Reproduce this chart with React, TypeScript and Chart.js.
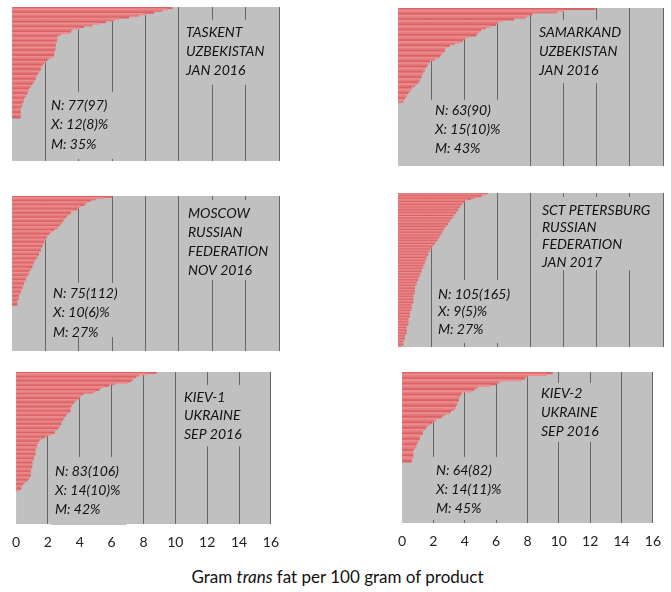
import React, { useEffect, useRef } from "react";
import { Chart, registerables } from "chart.js";

Chart.register(...registerables);

// ---------- data ----------
const xTickValues = [0, 2, 4, 6, 8, 10, 12, 14, 16];

const taskentValues = [
  9.6, 9.3, 9.0, 8.5, 8.0, 7.6, 7.0, 6.4, 6.1, 5.6, 5.2, 4.8, 4.3, 4.0, 3.6, 3.5, 3.4, 2.9, 2.7,
  2.7, 2.7, 2.65, 2.65, 2.6, 2.6, 2.6, 2.6, 2.55, 2.55, 2.5, 2.5, 2.4,
  2.2, 2.1, 2.0, 1.9, 1.8, 1.8, 1.7, 1.7, 1.6,
  1.6, 1.5, 1.5, 1.4, 1.4, 1.3, 1.3,
  1.2, 1.1, 1.1, 1.0, 1.0, 0.9, 0.9,
  0.8, 0.8, 0.7, 0.7, 0.7, 0.6, 0.6, 0.6,
  0.5, 0.5, 0.5, 0.5, 0.5, 0.5, 0.5,
  0, 0, 0, 0, 0, 0, 0, 0, 0, 0, 0, 0, 0, 0, 0, 0, 0, 0, 0, 0, 0, 0, 0, 0, 0, 0, 0,
];

const moscowValues = [
  6.0, 5.5, 5.0, 4.7, 4.5, 4.4, 4.3, 4.1, 4.0, 3.9, 3.7, 3.5, 3.5, 3.4, 3.3, 3.2, 3.1, 3.1, 3.0, 3.0,
  2.9, 2.8, 2.7, 2.7, 2.5, 2.4, 2.3,
  2.2, 2.1, 2.1, 2.0, 2.0, 1.9, 1.9, 1.9,
  1.8, 1.8, 1.7, 1.7, 1.7, 1.6, 1.6, 1.6,
  1.5, 1.5, 1.4, 1.4, 1.3, 1.3, 1.3, 1.2,
  1.2, 1.1, 1.1, 1.0, 1.0, 1.0, 0.9, 0.9,
  0.8, 0.8, 0.8, 0.7, 0.7, 0.7, 0.6, 0.6,
  0.6, 0.5, 0.5, 0.5, 0.4, 0.4, 0.4, 0.4,
  0.3, 0.3, 0.3, 0.3,
  0, 0, 0, 0, 0, 0, 0, 0, 0, 0, 0, 0, 0, 0, 0, 0, 0, 0, 0, 0, 0, 0, 0, 0, 0, 0, 0, 0, 0, 0, 0, 0, 0,
];

const kiev1Values = [
  8.8, 8.2, 7.7, 7.5, 7.4, 7.3, 7.2, 7.0, 6.2, 5.8, 5.5, 5.3, 5.2, 5.0, 4.8, 4.2, 4.1, 4.0, 3.9, 3.8,
  3.7, 3.6, 3.5,
  3.5, 3.4, 3.4, 3.4, 3.4, 3.3,
  3.2, 3.1, 3.0, 3.0, 2.9,
  2.9, 2.8, 2.8, 2.7,
  2.7, 2.6, 2.5, 2.4,
  2.4, 2.2, 2.0, 1.8,
  1.6, 1.5, 1.4, 1.4,
  1.3, 1.3, 1.3, 1.2, 1.2, 1.2, 1.2, 1.2,
  1.1, 1.1, 1.1, 1.1, 1.0, 1.0, 1.0, 1.0,
  1.0, 0.9, 0.9, 0.9, 0.9, 0.9, 0.9, 0.8, 0.8,
  0.7, 0.6, 0.5, 0.4, 0.4, 0.3, 0.3, 0.2,
  0, 0, 0, 0, 0, 0, 0, 0, 0, 0, 0, 0, 0, 0, 0, 0, 0, 0, 0, 0, 0, 0, 0,
];

const samarkandValues = [
  11.9, 10.0, 9.6, 8.1, 7.9, 7.7, 7.0, 6.3, 6.0, 5.9, 5.6, 5.3, 5.0, 4.9, 4.8, 4.7, 4.3, 4.0, 3.9, 3.8,
  3.4, 3.1, 2.9, 2.8, 2.8, 2.7, 2.6, 2.5, 2.4, 2.2, 1.9, 1.8, 1.8, 1.7, 1.6, 1.6, 1.5, 1.5, 1.4, 1.4,
  1.3, 1.3, 1.2, 1.1, 1.0, 0.8, 0.8, 0.7, 0.6, 0.5, 0.5, 0.4, 0.3, 0.3,
  0, 0, 0, 0, 0, 0, 0, 0, 0, 0, 0, 0, 0, 0, 0, 0, 0, 0, 0, 0, 0, 0, 0, 0, 0, 0, 0, 0, 0, 0, 0, 0, 0, 0, 0, 0,
];

const petersburgValues = [
  5.4, 5.3, 5.1, 5.0, 4.9, 4.6, 4.4, 4.2, 4.0, 4.0,
  3.9, 3.9, 3.8, 3.8, 3.7, 3.7, 3.6, 3.6, 3.6, 3.5,
  3.5, 3.5, 3.4, 3.4, 3.3, 3.3, 3.3, 3.2, 3.2, 3.1,
  3.1, 3.0, 3.0, 3.0, 2.9, 2.9, 2.8, 2.8, 2.8, 2.7,
  2.7, 2.7, 2.6, 2.6, 2.6, 2.5, 2.5, 2.5, 2.4, 2.4,
  2.4, 2.3, 2.3, 2.2, 2.2, 2.1, 2.1, 2.0, 2.0, 2.0,
  1.9, 1.9, 1.9, 1.8, 1.8, 1.8, 1.8, 1.7, 1.7, 1.7,
  1.7, 1.7, 1.6, 1.6, 1.6, 1.6, 1.6, 1.5, 1.5, 1.5,
  1.5, 1.4, 1.4, 1.4, 1.4, 1.4, 1.3, 1.3, 1.3, 1.3,
  1.2, 1.2, 1.2, 1.2, 1.1, 1.1, 1.1, 1.1, 1.1, 1.0,
  1.0, 1.0, 1.0, 1.0, 1.0, 1.0, 1.0, 1.0, 0.9, 0.9,
  0.9, 0.9, 0.9, 0.9, 0.9, 0.9, 0.9, 0.9, 0.8, 0.8,
  0.8, 0.8, 0.8, 0.8, 0.8, 0.8, 0.7, 0.7, 0.7, 0.7,
  0.7, 0.7, 0.7, 0.6, 0.6, 0.6, 0.6, 0.6, 0.6, 0.6,
  0.6, 0.6, 0.5, 0.5, 0.5, 0.5, 0.5, 0.5, 0.5, 0.5,
  0.5, 0.4, 0.4, 0.4, 0.4, 0.4, 0.4, 0.4, 0.3, 0.3,
  0.3, 0.3, 0.3, 0.2, 0.2,
];

const kiev2Values = [
  9.6, 9.2, 8.0, 7.8, 7.6, 6.2, 6.0, 5.6, 4.8, 4.6, 4.4, 3.8, 3.7, 3.7, 3.6, 3.6, 3.5, 3.5, 3.4, 3.4,
  3.3, 3.1, 3.0, 2.7, 2.5, 2.2, 2.1, 1.9, 1.8, 1.6, 1.5, 1.4, 1.3, 1.3, 1.2, 1.1, 1.1, 1.0, 1.0, 0.9,
  0.9, 0.8, 0.7, 0.7, 0.7, 0.7, 0.7, 0.6, 0.6,
  0, 0, 0, 0, 0, 0, 0, 0, 0, 0, 0, 0, 0, 0, 0, 0, 0, 0, 0, 0, 0, 0, 0, 0, 0, 0, 0, 0, 0, 0, 0, 0, 0,
];

const taskentTitle = ["TASKENT", "UZBEKISTAN", "JAN 2016"];
const taskentStats = ["N: 77(97)", "X: 12(8)%", "M: 35%"];
const moscowTitle = ["MOSCOW", "RUSSIAN", "FEDERATION", "NOV 2016"];
const moscowStats = ["N: 75(112)", "X: 10(6)%", "M: 27%"];
const kiev1Title = ["KIEV-1", "UKRAINE", "SEP 2016"];
const kiev1Stats = ["N: 83(106)", "X: 14(10)%", "M: 42%"];
const samarkandTitle = ["SAMARKAND", "UZBEKISTAN", "JAN 2016"];
const samarkandStats = ["N: 63(90)", "X: 15(10)%", "M: 43%"];
const petersburgTitle = ["SCT PETERSBURG", "RUSSIAN", "FEDERATION", "JAN 2017"];
const petersburgStats = ["N: 105(165)", "X: 9(5)%", "M: 27%"];
const kiev2Title = ["KIEV-2", "UKRAINE", "SEP 2016"];
const kiev2Stats = ["N: 64(82)", "X: 14(11)%", "M: 45%"];

const captionBefore = "Gram ";
const captionItalic = "trans";
const captionAfter = " fat per 100 gram of product";

// ---------- layout / style ----------
const PLOT_BG = "#c0c0c0";
const GRID = "#666666";
const BAR_COLORS = ["#dd6264", "#ea8d8e", "#e47a7b"];
const TEXT_FONT = "italic 14px Lato, 'Open Sans', sans-serif";
const TICK_PAD = 10;
const TICK_SIZE = 14;

interface Block {
  lines: string[];
  x: number;
  y: number;
  gap: number;
  pt: number;
  pb: number;
}
interface PanelCfg {
  values: number[];
  l: number;
  t: number;
  r: number;
  b: number;
  ticks: boolean;
  blocks: Block[];
}

const panels: PanelCfg[] = [
  {
    values: taskentValues, l: 12, t: 7, r: 279, b: 161, ticks: false,
    blocks: [
      { lines: taskentTitle, x: 186, y: 32, gap: 19.4, pt: 12, pb: 14 },
      { lines: taskentStats, x: 51, y: 105, gap: 19.5, pt: 13, pb: 15 },
    ],
  },
  {
    values: moscowValues, l: 12, t: 196, r: 279, b: 351, ticks: false,
    blocks: [
      { lines: moscowTitle, x: 188, y: 213, gap: 19.3, pt: 13, pb: 9 },
      { lines: moscowStats, x: 53, y: 293, gap: 19.5, pt: 10, pb: 5 },
    ],
  },
  {
    values: kiev1Values, l: 12, t: 372, r: 279, b: 524, ticks: true,
    blocks: [
      { lines: kiev1Title, x: 184, y: 397, gap: 18.7, pt: 12, pb: 12 },
      { lines: kiev1Stats, x: 55, y: 471, gap: 19, pt: 14, pb: 16 },
    ],
  },
  {
    values: samarkandValues, l: 398, t: 8, r: 663, b: 166, ticks: false,
    blocks: [
      { lines: samarkandTitle, x: 539, y: 32, gap: 19, pt: 12, pb: 13 },
      { lines: samarkandStats, x: 435, y: 110, gap: 19, pt: 10, pb: 18 },
    ],
  },
  {
    values: petersburgValues, l: 398, t: 193, r: 663, b: 347, ticks: false,
    blocks: [
      { lines: petersburgTitle, x: 542, y: 210, gap: 17.4, pt: 13, pb: 8 },
      { lines: petersburgStats, x: 438, y: 294, gap: 17.5, pt: 14, pb: 14 },
    ],
  },
  {
    values: kiev2Values, l: 398, t: 372, r: 663, b: 523, ticks: true,
    blocks: [
      { lines: kiev2Title, x: 541, y: 393, gap: 19, pt: 10, pb: 11 },
      { lines: kiev2Stats, x: 436, y: 470, gap: 19, pt: 13, pb: 12 },
    ],
  },
];

const PAGE_W = 671;

function Panel({ cfg }: { cfg: PanelCfg }) {
  const ref = useRef<HTMLCanvasElement | null>(null);
  const padL = 10;
  const padR = Math.min(10, PAGE_W - cfg.r);
  const padT = 4;
  const plotW = cfg.r - cfg.l;
  const plotH = cfg.b - cfg.t;
  const axisH = cfg.ticks ? TICK_SIZE * 1.2 + 2 * TICK_PAD : 0;
  const canvasW = plotW + padL + padR;
  const canvasH = Math.ceil(padT + plotH + axisH + 4);
  const padB = canvasH - padT - plotH - axisH;
  const canvasLeft = cfg.l - padL;
  const canvasTop = cfg.t - padT;

  useEffect(() => {
    if (!ref.current) return;
    const blocks = cfg.blocks.map((b) => ({ ...b, x: b.x - canvasLeft, y: b.y - canvasTop }));
    const decor = {
      id: "panelDecor",
      beforeDraw(chart: any) {
        const { ctx, chartArea } = chart;
        ctx.save();
        ctx.fillStyle = PLOT_BG;
        ctx.fillRect(chartArea.left, chartArea.top, chartArea.right - chartArea.left, chartArea.bottom - chartArea.top);
        ctx.restore();
      },
      afterDraw(chart: any) {
        const { ctx } = chart;
        ctx.save();
        ctx.font = TEXT_FONT;
        ctx.textBaseline = "middle";
        ctx.textAlign = "left";
        for (const b of blocks) {
          const w = Math.max(...b.lines.map((l) => ctx.measureText(l).width));
          const h = (b.lines.length - 1) * b.gap;
          ctx.fillStyle = PLOT_BG;
          ctx.fillRect(b.x - 4, b.y - b.pt, w + 10, h + b.pt + b.pb);
          ctx.fillStyle = "#111111";
          b.lines.forEach((l, i) => ctx.fillText(l, b.x, b.y + i * b.gap));
        }
        ctx.restore();
      },
    };
    const chart = new Chart(ref.current, {
      type: "bar",
      data: {
        labels: cfg.values.map((_, i) => String(i + 1)),
        datasets: [
          {
            data: cfg.values,
            backgroundColor: (c: any) => BAR_COLORS[c.dataIndex % BAR_COLORS.length],
            borderWidth: 0,
            inflateAmount: (c: any) => (c.raw === 0 ? 0 : "auto"),
            barPercentage: 1,
            categoryPercentage: 1,
          },
        ],
      },
      options: {
        indexAxis: "y",
        responsive: false,
        animation: false,
        events: [],
        layout: { padding: { left: padL, right: padR, top: padT, bottom: padB } },
        plugins: { legend: { display: false }, tooltip: { enabled: false }, title: { display: false } },
        scales: {
          y: { display: false, offset: true },
          x: {
            type: "linear",
            min: 0,
            max: 16,
            z: 1,
            afterBuildTicks: (s: any) => {
              s.ticks = xTickValues.map((v) => ({ value: v }));
            },
            border: { display: false },
            grid: {
              drawTicks: false,
              color: (c: any) => (c.index === 0 ? "rgba(0,0,0,0)" : GRID),
              lineWidth: 1,
            },
            ticks: {
              display: cfg.ticks,
              padding: TICK_PAD,
              color: "#222",
              font: { family: "Lato, 'Open Sans', sans-serif", size: TICK_SIZE },
              maxRotation: 0,
              autoSkip: false,
            },
          },
        },
      },
      plugins: [decor],
    } as any);
    return () => chart.destroy();
  }, []);

  return (
    <canvas
      ref={ref}
      width={canvasW}
      height={canvasH}
      style={{ position: "absolute", left: canvasLeft, top: canvasTop, width: canvasW, height: canvasH }}
    />
  );
}

export default function App() {
  return (
    <div style={{ position: "absolute", left: 0, top: 0, width: PAGE_W, height: 592, background: "#fff", overflow: "hidden" }}>
      {panels.map((p, i) => (
        <Panel key={i} cfg={p} />
      ))}
      <div
        style={{
          position: "absolute",
          left: 0,
          top: 567,
          width: PAGE_W,
          textAlign: "center",
          fontFamily: "Lato, 'Open Sans', sans-serif",
          fontSize: 17,
          lineHeight: "20px",
          color: "#111",
          paddingLeft: 4,
          boxSizing: "border-box",
        }}
      >
        {captionBefore}
        <i>{captionItalic}</i>
        {captionAfter}
      </div>
    </div>
  );
}
